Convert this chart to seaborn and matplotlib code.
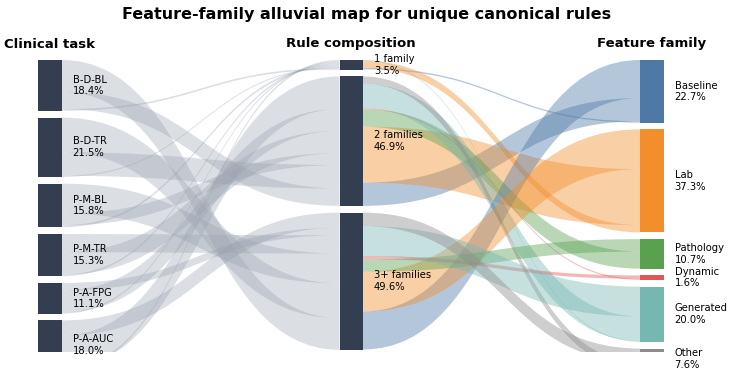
import matplotlib
matplotlib.use("Agg")
import matplotlib.pyplot as plt
from matplotlib.path import Path
from matplotlib.patches import PathPatch, Rectangle
import seaborn as sns

# ---- data -------------------------------------------------------------
tasks = ["B-D-BL", "B-D-TR", "P-M-BL", "P-M-TR", "P-A-FPG", "P-A-AUC"]
task_pct = [18.4, 21.5, 15.8, 15.3, 11.1, 18.0]

compositions = ["1 family", "2 families", "3+ families"]
comp_pct = [3.5, 46.9, 49.6]

families = ["Baseline", "Lab", "Pathology", "Dynamic", "Generated", "Other"]
family_pct = [22.7, 37.3, 10.7, 1.6, 20.0, 7.6]
family_colors = ["#4e79a7", "#f28e2b", "#59a14f", "#e15759", "#76b7b2", "#8c8c8c"]

# share of rules: task -> (1 family, 2 families, 3+ families)
task_to_comp = [
    [0.6, 6.3, 11.5],
    [0.4, 8.5, 12.6],
    [0.7, 4.3, 10.8],
    [0.6, 8.1, 6.6],
    [0.5, 7.9, 2.7],
    [0.7, 11.8, 5.5],
]
# composition -> feature family
comp_to_family = [
    [0.5, 2.6, 0.0, 0.0, 0.3, 0.0],
    [8.4, 20.3, 6.2, 0.4, 8.9, 2.7],
    [13.8, 14.4, 4.5, 1.2, 10.8, 4.9],
]

# ---- layout -----------------------------------------------------------
W, H = 733, 373
PX = 2.76          # pixels per percent
GAP = 2.45         # gap between nodes (percent units)
col_x = [38, 339.5, 640]
node_w = 23.5
node_color = "#333f50"
link_grey = "#9aa3b0"


def node_tops(values):
    tops, y = [], 0.0
    for v in values:
        tops.append(y)
        y += v + GAP
    return tops


def ribbon(ax, xa, xb, ya0, ya1, yb0, yb1, color, alpha):
    xm = (xa + xb) / 2
    verts = [(xa, ya0), (xm, ya0), (xm, yb0), (xb, yb0),
             (xb, yb1), (xm, yb1), (xm, ya1), (xa, ya1), (xa, ya0)]
    codes = [Path.MOVETO, Path.CURVE4, Path.CURVE4, Path.CURVE4,
             Path.LINETO, Path.CURVE4, Path.CURVE4, Path.CURVE4, Path.CLOSEPOLY]
    ax.add_patch(PathPatch(Path(verts, codes), facecolor=color, edgecolor="none",
                           alpha=alpha, zorder=1))


def draw_links(ax, matrix, src_tops, dst_tops, xa, xb, colors, alpha):
    n_src, n_dst = len(matrix), len(matrix[0])
    # outflows stacked in reverse target order, inflows in reverse source order
    src_off = {}
    for i in range(n_src):
        y = src_tops[i]
        for j in reversed(range(n_dst)):
            src_off[(i, j)] = y
            y += matrix[i][j]
    dst_off = {}
    for j in range(n_dst):
        y = dst_tops[j]
        for i in reversed(range(n_src)):
            dst_off[(i, j)] = y
            y += matrix[i][j]
    for i in range(n_src):
        for j in range(n_dst):
            v = matrix[i][j]
            if v <= 0:
                continue
            ya, yb = src_off[(i, j)], dst_off[(i, j)]
            ribbon(ax, xa, xb, ya, ya + v, yb, yb + v, colors(i, j), alpha)


sns.set_style("white")
fig = plt.figure(figsize=(W / 100, H / 100), dpi=100)
top_px, bot_px = 50, 352
ax = fig.add_axes([0, (H - bot_px) / H, 1, (bot_px - top_px) / H])
ax.set_xlim(0, W)
ax.set_ylim((bot_px - 60) / PX, (top_px - 60) / PX)
ax.axis("off")

t_tops = node_tops(task_pct)
c_tops = node_tops(comp_pct)
f_tops = node_tops(family_pct)

draw_links(ax, task_to_comp, t_tops, c_tops, col_x[0] + node_w, col_x[1],
           lambda i, j: link_grey, 0.35)
draw_links(ax, comp_to_family, c_tops, f_tops, col_x[1] + node_w, col_x[2],
           lambda i, j: family_colors[j], 0.42)

columns = [
    (tasks, task_pct, t_tops, [node_color] * len(tasks)),
    (compositions, comp_pct, c_tops, [node_color] * len(compositions)),
    (families, family_pct, f_tops, family_colors),
]
for k, (names, pct, tops, colors) in enumerate(columns):
    for name, v, t, c in zip(names, pct, tops, colors):
        ax.add_patch(Rectangle((col_x[k], t), node_w, v, facecolor=c,
                               edgecolor="none", zorder=3))
        ax.text(col_x[k] + node_w + 11, t + v / 2, f"{name}\n{v:.1f}%",
                ha="left", va="center", fontsize=7.2, color="black",
                zorder=4, clip_on=False)

headers = [("Clinical task", 50), ("Rule composition", 351), ("Feature family", 652)]
for label, xc in headers:
    fig.text(xc / W, 1 - 44 / H, label, ha="center", va="center",
             fontsize=9.5, fontweight="bold", color="black")

fig.text(0.5, 1 - 14 / H, "Feature-family alluvial map for unique canonical rules",
         ha="center", va="center", fontsize=11.5, fontweight="bold", color="black")

fig.savefig("out.png", dpi=100)
